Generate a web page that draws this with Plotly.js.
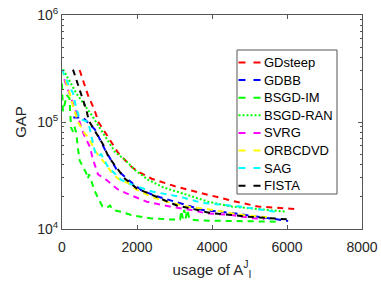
<!DOCTYPE html>
<html>
<head>
<meta charset="utf-8">
<script src="https://cdn.plot.ly/plotly-3.0.1.min.js"></script>
<style>html,body{margin:0;padding:0;background:#fff;}#chart{width:381px;height:287px;}</style>
</head>
<body>
<div id="chart"></div>
<script>
// ---- data ----
const seriesNames = ['GDsteep','GDBB','BSGD-IM','BSGD-RAN','SVRG','ORBCDVD','SAG','FISTA'];

const gdsteepX = [470, 693, 870, 970, 1190, 1280, 1500, 1858, 2035, 2390, 3013, 3547, 4080, 4525, 5230, 6213];
const gdsteepY = [306000, 178000, 129000, 100000, 75900, 67600, 51300, 38000, 34300, 29500, 25100, 22400, 20000, 18400, 16200, 15400];

const gdbbX = [300, 560, 880, 1000, 1147, 1450, 1770, 2125, 2500, 3150, 3725, 4525, 6030];
const gdbbY = [110000, 110000, 85100, 70800, 55000, 36300, 28800, 22900, 20400, 17400, 15100, 14100, 11900];

const bsgdImX = [0, 15, 25, 130, 200, 240, 293, 330, 380, 430, 470, 650, 690, 720, 760, 830, 880, 960, 1080, 1200, 1280, 1350, 1570, 1840, 2350, 2880, 3150, 3180, 3220, 3260, 3300, 3340, 3400, 3680, 4500, 5800];
const bsgdImY = [229000, 166000, 126000, 178000, 166000, 89100, 81300, 91200, 79400, 55000, 43700, 33100, 29500, 32400, 29500, 25700, 22400, 19500, 16200, 15800, 16600, 15100, 14500, 13500, 12600, 12300, 12300, 14800, 12600, 15100, 12600, 15100, 12300, 12000, 11900, 11700];

const bsgdRanX = [30, 380, 780, 1147, 1413, 1680, 1947, 2300, 2700, 3325, 3900, 4525, 5200, 5990];
const bsgdRanY = [309000, 186000, 117500, 72400, 52500, 44200, 35500, 28800, 24500, 20900, 18000, 16200, 15300, 14500];

const svrgX = [60, 200, 350, 470, 560, 740, 830, 960, 1180, 1493, 1805, 2260, 2880, 3413, 3860, 4525, 5100, 5400];
const svrgY = [251000, 186000, 129000, 100000, 79400, 58900, 44200, 32400, 28800, 23400, 20900, 18000, 16200, 15100, 14000, 13500, 12600, 12400];

const orbcdvdX = [0, 205, 300, 427, 600, 700, 900, 1180, 1360, 1540, 1760, 1975, 2390, 2790, 3413, 3800, 4830, 5470];
const orbcdvdY = [309000, 186000, 138000, 100000, 78500, 72400, 52500, 39800, 32400, 28800, 26900, 23400, 20000, 18000, 16000, 15500, 13500, 12900];

const sagX = [0, 160, 293, 380, 470, 700, 770, 880, 960, 1040, 1227, 1405, 1580, 1900, 2400, 3150, 3725, 4747, 5800];
const sagY = [309000, 229000, 186000, 135000, 107000, 100000, 77600, 52500, 47900, 50100, 38000, 33100, 28800, 25700, 22400, 20000, 17600, 16200, 14300];

const fistaX = [293, 430, 520, 650, 720, 925, 1102, 1236, 1458, 1680, 1990, 2600, 3060, 3590, 3950, 5000, 6030];
const fistaY = [309000, 224000, 174000, 129000, 102000, 78500, 61000, 47400, 37200, 29500, 24000, 19500, 16600, 15100, 14100, 13000, 12300];

const xTickVals = [0, 2000, 4000, 6000, 8000];
const yTickVals = [1e4, 1e5, 1e6];
const yTickText = ['10<sup>4</sup>', '10<sup>5</sup>', '10<sup>6</sup>'];

// ---- styling ----
const FONT = 'Liberation Sans, Arial, Helvetica, sans-serif';
const TXT = '#262626';
const AX = '#555555';
const DASH = '6px,5px';
const DOT = '2px,2px';

const styles = [
  {color: '#ff0000', dash: DASH},
  {color: '#0000ff', dash: DASH},
  {color: '#00ff00', dash: DASH},
  {color: '#00ff00', dash: DOT},
  {color: '#ff00ff', dash: DASH},
  {color: '#ffff00', dash: DASH},
  {color: '#00ffff', dash: DASH},
  {color: '#000000', dash: DASH}
];
const xs = [gdsteepX, gdbbX, bsgdImX, bsgdRanX, svrgX, orbcdvdX, sagX, fistaX];
const ys = [gdsteepY, gdbbY, bsgdImY, bsgdRanY, svrgY, orbcdvdY, sagY, fistaY];

const data = seriesNames.map(function (n, i) {
  return {
    type: 'scatter', mode: 'lines', name: n, x: xs[i], y: ys[i],
    line: {color: styles[i].color, width: 2, dash: styles[i].dash},
    hoverinfo: 'skip', showlegend: false
  };
});

// minor ticks for log axis: 2..9 in each decade
const minorVals = [];
[1e4, 1e5].forEach(function (d) { for (let k = 2; k <= 9; k++) minorVals.push(k * d); });

// ---- legend box (MATLAB style), placed in paper coordinates ----
const L = 62, R = 362, T = 15, B = 229;           // plot area in px
const px2x = function (p) { return (p - L) / (R - L); };
const py2y = function (p) { return (B - p) / (B - T); };
const shapes = [{
  type: 'rect', xref: 'paper', yref: 'paper',
  x0: px2x(237), x1: px2x(337), y0: py2y(194), y1: py2y(50),
  line: {color: '#555555', width: 1}, fillcolor: '#ffffff', layer: 'above'
}];
const annotations = [];
seriesNames.forEach(function (n, i) {
  const cy = 62.5 + i * 17.6;
  shapes.push({
    type: 'line', xref: 'paper', yref: 'paper',
    x0: px2x(238.5), x1: px2x(261), y0: py2y(cy), y1: py2y(cy),
    line: {color: styles[i].color, width: 2, dash: styles[i].dash === DOT ? DOT : '7px,8px'},
    layer: 'above'
  });
  annotations.push({
    xref: 'paper', yref: 'paper', x: px2x(262), y: py2y(cy),
    xanchor: 'left', yanchor: 'middle', showarrow: false, text: n,
    font: {family: FONT, size: 13, color: '#000000'}
  });
});

const layout = {
  width: 381, height: 287,
  margin: {l: 62, r: 19, t: 15, b: 58, pad: 0},
  paper_bgcolor: '#ffffff', plot_bgcolor: '#ffffff',
  font: {family: FONT, size: 14, color: TXT},
  showlegend: false,
  shapes: shapes,
  annotations: annotations,
  xaxis: {
    range: [0, 8000], tickmode: 'array', tickvals: xTickVals,
    ticks: 'inside', ticklen: 4, tickcolor: AX, tickwidth: 1, ticklabelstandoff: 5,
    showline: true, linecolor: AX, linewidth: 1, mirror: 'ticks',
    showgrid: false, zeroline: false,
    tickfont: {family: FONT, size: 14, color: TXT},
    title: {text: 'usage of A<sup>J</sup><sub>I</sub>', font: {family: FONT, size: 15, color: TXT}, standoff: 10}
  },
  yaxis: {
    type: 'log', range: [4, 6], tickmode: 'array', tickvals: yTickVals, ticktext: yTickText,
    ticks: 'inside', ticklen: 4, tickcolor: AX, tickwidth: 1,
    minor: {tickmode: 'array', tickvals: minorVals, ticks: 'inside', ticklen: 2, tickcolor: AX, showgrid: false},
    showline: true, linecolor: AX, linewidth: 1, mirror: 'ticks',
    showgrid: false, zeroline: false,
    tickfont: {family: FONT, size: 14, color: TXT},
    title: {text: 'GAP', font: {family: FONT, size: 15, color: TXT}, standoff: 6}
  }
};

Plotly.newPlot('chart', data, layout, {staticPlot: true, displayModeBar: false});
</script>
</body>
</html>
